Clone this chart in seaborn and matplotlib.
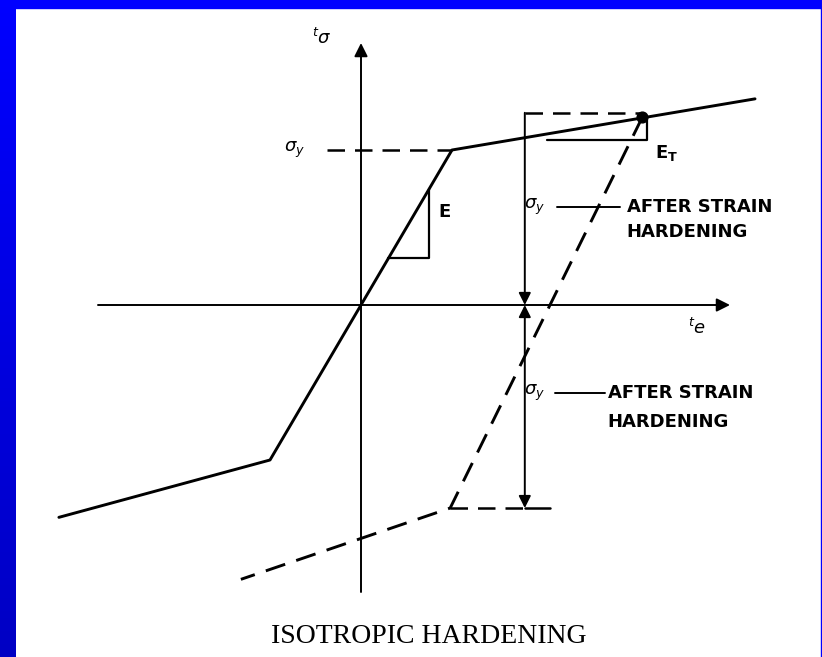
import numpy as np
import seaborn as sns
import matplotlib.pyplot as plt
from matplotlib.patches import Rectangle

# strain in units of yield strain, stress in units of sigma_y
strain_solid = [-3.32, -1.0, 0.0, 1.0, 4.33]
stress_solid = [-1.37, -1.0, 0.0, 1.0, 1.33]
strain_unload = [3.09, 0.98, -1.32]
stress_unload = [1.21, -1.31, -1.77]
reload_strain, reload_stress = 3.09, 1.21
yield_line_x = [-0.37, 1.0]
yield_stress = 1.0
arrow_x = 1.80
top_stress = 1.24
low_stress = -1.31

sns.set_style("white")
plt.rcParams['mathtext.fontset'] = 'dejavusans'

fig = plt.figure(figsize=(8.22, 6.57), dpi=100)
ax = fig.add_axes([0, 0, 1, 1])
ax.axis("off")

# pixel frame mapping: origin at (361, 305), 91 px per strain unit, 155 px per stress unit
x0, sx, y0, sy = 361, 91, 305, 155
xmin, xmax = -x0 / sx, (822 - x0) / sx
ymin, ymax = (y0 - 657) / sy, y0 / sy

dash = (0, (7, 4))
lw = 2.1

# coordinate axes
ax.annotate("", xy=(0, (y0 - 43) / sy), xytext=(0, (y0 - 592) / sy),
            arrowprops=dict(arrowstyle="-|>", color="black", lw=1.4, mutation_scale=20,
                            shrinkA=0, shrinkB=0))
ax.annotate("", xy=((730 - x0) / sx, 0), xytext=((98 - x0) / sx, 0),
            arrowprops=dict(arrowstyle="-|>", color="black", lw=1.4, mutation_scale=20,
                            shrinkA=0, shrinkB=0))

# loading curve
sns.lineplot(x=strain_solid, y=stress_solid, sort=False, color="black", lw=lw, ax=ax)
# unloading (dashed)
ax.plot(strain_unload, stress_unload, color="black", lw=lw, linestyle=dash)
ax.plot(yield_line_x, [yield_stress, yield_stress], color="black", lw=1.8, linestyle=dash)
ax.plot([arrow_x, reload_strain], [top_stress, top_stress], color="black", lw=1.8, linestyle=dash)
ax.plot([strain_unload[1], arrow_x], [low_stress, low_stress], color="black", lw=1.8, linestyle=dash)
ax.plot([arrow_x, 2.08], [low_stress, low_stress], color="black", lw=1.8)
ax.scatter([reload_strain], [reload_stress], s=60, color="black", zorder=5)

# double arrows
ax.annotate("", xy=(arrow_x, 0), xytext=(arrow_x, top_stress),
            arrowprops=dict(arrowstyle="-|>", color="black", lw=1.4, mutation_scale=18,
                            shrinkA=0, shrinkB=0))
ax.annotate("", xy=(arrow_x, low_stress), xytext=(arrow_x, 0),
            arrowprops=dict(arrowstyle="<|-|>", color="black", lw=1.4, mutation_scale=18,
                            shrinkA=0, shrinkB=0))

# slope triangles
ax.plot([0.30, 0.75, 0.75], [0.30, 0.30, 0.75], color="black", lw=1.6)
ax.plot([2.04, 3.14, 3.14], [1.065, 1.065, 1.21], color="black", lw=1.6)

# leader lines
ax.plot([2.15, 2.85], [0.632, 0.632], color="black", lw=1.4)
ax.plot([2.13, 2.68], [-0.568, -0.568], color="black", lw=1.4)

tkw = dict(color="black", fontsize=13, family="DejaVu Sans")
bkw = dict(tkw, fontweight="bold")
ax.text(-0.73, 1.0, r"$\sigma_y$", ha="center", va="center", **tkw)
ax.text(-0.43, 1.72, r"${}^t\sigma$", ha="center", va="center", **tkw)
ax.text(3.69, -0.15, r"${}^t e$", ha="center", va="center", **tkw)
ax.text(0.92, 0.60, "E", ha="center", va="center", **bkw)
ax.text(3.36, 0.98, r"$\mathbf{E_T}$", ha="center", va="center", **tkw)
ax.text(1.91, 0.632, r"$\sigma_y$", ha="center", va="center", **tkw)
ax.text(2.92, 0.632, "AFTER STRAIN", ha="left", va="center", **bkw)
ax.text(2.92, 0.47, "HARDENING", ha="left", va="center", **bkw)
ax.text(1.91, -0.568, r"$\sigma_y$", ha="center", va="center", **tkw)
ax.text(2.71, -0.568, "AFTER STRAIN", ha="left", va="center", **bkw)
ax.text(2.71, -0.755, "HARDENING", ha="left", va="center", **bkw)

ax.text(0.74, -2.14, "ISOTROPIC HARDENING", ha="center", va="center",
        fontsize=20, family="Liberation Serif", color="black")

# blue frame
ax.add_patch(Rectangle((0, 1 - 8 / 657), 1, 8 / 657, transform=ax.transAxes,
                       color="#0000ff", clip_on=False, zorder=10))
ax.add_patch(Rectangle((1 - 1.5 / 822, 0), 1.5 / 822, 1, transform=ax.transAxes,
                       color="#0000ff", clip_on=False, zorder=10))
grad = np.linspace(0, 1, 100).reshape(-1, 1)
ax.imshow(grad, cmap=plt.matplotlib.colors.LinearSegmentedColormap.from_list(
    "b", ["#0000c4", "#0000ff"]), extent=[xmin, xmin + 16 / sx, ymin, ymax],
    aspect="auto", origin="lower", zorder=10)

ax.set_xlim(xmin, xmax)
ax.set_ylim(ymin, ymax)

fig.savefig("out.png", dpi=100, facecolor="white")
